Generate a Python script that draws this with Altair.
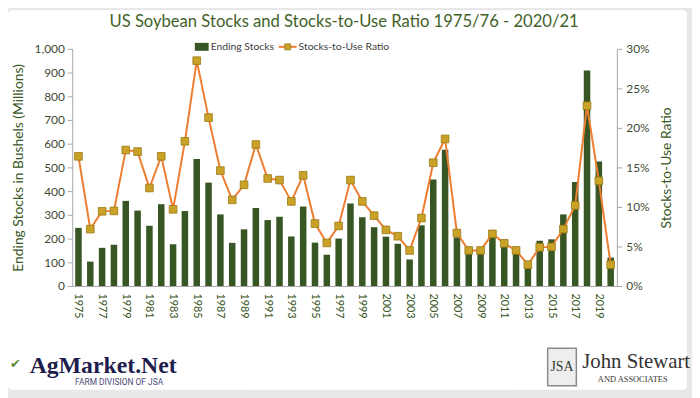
import altair as alt
import pandas as pd

years = list(range(1975, 2021))
stocks = [245, 103, 161, 174, 359, 318, 254, 345, 176, 316,
          536, 436, 302, 182, 239, 329, 278, 292, 209, 335,
          183, 132, 200, 348, 290, 248, 208, 178, 112, 256,
          449, 574, 205, 138, 151, 215, 169, 141, 92, 191,
          197, 302, 438, 909, 525, 120]
ratio_pct = [16.4, 7.2, 9.45, 9.5, 17.2, 17.0, 12.4, 16.4, 9.7, 18.3,
             28.5, 21.3, 14.6, 10.9, 12.8, 17.9, 13.6, 13.4, 10.7, 14.0,
             7.9, 5.45, 7.6, 13.4, 10.7, 8.9, 7.1, 6.3, 4.5, 8.6,
             15.6, 18.6, 6.7, 4.5, 4.5, 6.6, 5.4, 4.5, 2.7, 4.9,
             4.95, 7.2, 10.2, 22.8, 13.3, 2.7]
label_years = list(range(1975, 2021, 2))
left_ticks = list(range(0, 1001, 100))
right_ticks = [0, 0.05, 0.10, 0.15, 0.20, 0.25, 0.30]

title_text = "US Soybean Stocks and Stocks-to-Use Ratio 1975/76 - 2020/21"
legend_items = ["Ending Stocks", "Stocks-to-Use Ratio"]

df = pd.DataFrame({"year": years, "stocks": stocks,
                   "ratio": [r / 100 for r in ratio_pct]})

FONT = "Lato"
GREEN = "#375623"
TXT = "#3f4a35"
ORANGE = "#ED7D31"
GOLD = "#C9A227"

W, H = 551, 240

def one(t):
    return pd.DataFrame({"t": [t]})

xenc = alt.X("year:O",
             scale=alt.Scale(paddingInner=0.45, paddingOuter=0.25),
             axis=alt.Axis(title=None, values=label_years, labelAngle=90,
                           ticks=False, labelPadding=7, labelFontSize=11,
                           labelColor=GREEN, labelFont=FONT,
                           domainColor="#a6a6a6", zindex=1))

card = alt.Chart(one("")).mark_rect(color="white", cornerRadius=4).encode(
    x=alt.value(-65), x2=alt.value(622), y=alt.value(-39), y2=alt.value(345))

bars = alt.Chart(df).mark_bar(color=GREEN).encode(
    x=xenc,
    y=alt.Y("stocks:Q",
            scale=alt.Scale(domain=[0, 1000]),
            axis=alt.Axis(title="Ending Stocks in Bushels (Millions)",
                          values=left_ticks, format=",d", grid=False,
                          tickSize=5, tickColor="#a6a6a6",
                          domainColor="#a6a6a6", labelPadding=3,
                          labelFontSize=12, labelColor=TXT, labelFont=FONT,
                          titleFontSize=14, titleColor=GREEN, titleFont=FONT,
                          titleFontWeight="normal", titlePadding=9,
                          zindex=1)))

ratio_axis = alt.Axis(title="Stocks-to-Use Ratio", orient="right",
                      values=right_ticks, format=".0%", grid=False,
                      tickSize=5, tickColor="#a6a6a6",
                      domainColor="#a6a6a6", labelPadding=4,
                      labelFontSize=12, labelColor=TXT, labelFont=FONT,
                      titleFontSize=14, titleColor=GREEN, titleFont=FONT,
                      titleFontWeight="normal", titleAngle=270,
                      titleBaseline="top", titlePadding=11, zindex=1)

line = alt.Chart(df).mark_line(color=ORANGE, strokeWidth=2).encode(
    x=alt.X("year:O"),
    y=alt.Y("ratio:Q", scale=alt.Scale(domain=[0, 0.30]), axis=ratio_axis))

pts = alt.Chart(df).mark_point(shape="square", filled=True, size=60,
                               fill=GOLD, stroke="#9a7a14", strokeWidth=0.8,
                               opacity=1).encode(
    x=alt.X("year:O"),
    y=alt.Y("ratio:Q", scale=alt.Scale(domain=[0, 0.30]), axis=ratio_axis))

line_layer = alt.layer(line, pts)

title = alt.Chart(one(title_text)).mark_text(
    font=FONT, fontSize=16.8, color="#426128", align="center",
    baseline="middle").encode(x=alt.value(275), y=alt.value(-27), text="t:N")

leg_rect = alt.Chart(one("")).mark_rect(color=GREEN).encode(
    x=alt.value(124), x2=alt.value(138), y=alt.value(-6), y2=alt.value(2))
leg_t1 = alt.Chart(one(legend_items[0])).mark_text(
    font=FONT, fontSize=10.5, color="#404040", align="left",
    baseline="middle").encode(x=alt.value(140), y=alt.value(-2), text="t:N")
leg_line = alt.Chart(one("")).mark_rule(color=ORANGE, strokeWidth=2).encode(
    x=alt.value(209), x2=alt.value(227), y=alt.value(-2))
leg_pt = alt.Chart(one("")).mark_point(shape="square", filled=True, size=36,
                                       fill=GOLD, stroke="#9a7a14",
                                       strokeWidth=0.8, opacity=1).encode(
    x=alt.value(218), y=alt.value(-2))
leg_t2 = alt.Chart(one(legend_items[1])).mark_text(
    font=FONT, fontSize=10.5, color="#404040", align="left",
    baseline="middle").encode(x=alt.value(229), y=alt.value(-2), text="t:N")

ag = alt.Chart(one("AgMarket.Net")).mark_text(
    font="Liberation Serif", fontSize=24, fontWeight="bold", color="#1e1d4d",
    align="left", baseline="middle").encode(
    x=alt.value(-43), y=alt.value(321), text="t:N")
ag_sub = alt.Chart(one("FARM DIVISION OF JSA")).mark_text(
    font="Roboto", fontSize=8.5, color="#4b4a78", align="right",
    baseline="middle").encode(x=alt.value(92), y=alt.value(337), text="t:N")
leaf = alt.Chart(one("\u2714")).mark_text(
    font="DejaVu Sans", fontSize=13, color="#5b8a3a", align="left",
    baseline="middle").encode(x=alt.value(-63), y=alt.value(319), text="t:N")

jsa_box = alt.Chart(one("")).mark_rect(fill="#eeeeee", stroke="#8a8a8a",
                                       strokeWidth=1.5).encode(
    x=alt.value(481), x2=alt.value(510), y=alt.value(303), y2=alt.value(341))
jsa_t = alt.Chart(one("JSA")).mark_text(
    font="Liberation Serif", fontSize=14, color="#2e3b2e", align="center",
    baseline="middle").encode(x=alt.value(495.5), y=alt.value(322), text="t:N")
js = alt.Chart(one("John Stewart")).mark_text(
    font="Liberation Serif", fontSize=21, color="#333333", align="left",
    baseline="middle").encode(x=alt.value(516), y=alt.value(317), text="t:N")
js_sub = alt.Chart(one("AND ASSOCIATES")).mark_text(
    font="Liberation Serif", fontSize=8.5, color="#333333", align="center",
    baseline="middle").encode(
    x=alt.value(567), y=alt.value(334), text="t:N")

chart = alt.layer(
    card, bars, line_layer, title, leg_rect, leg_t1, leg_line, leg_pt, leg_t2,
    ag, ag_sub, leaf, jsa_box, jsa_t, js, js_sub
).resolve_scale(y="independent").properties(
    width=W, height=H,
    autosize=alt.AutoSizeParams(type="none"),
    padding={"left": 65, "top": 39, "right": 76, "bottom": 111},
    background="#e8e8e8",
).configure_view(stroke=None)

chart.save("out.html", embed_options={"renderer": "svg", "actions": False})
